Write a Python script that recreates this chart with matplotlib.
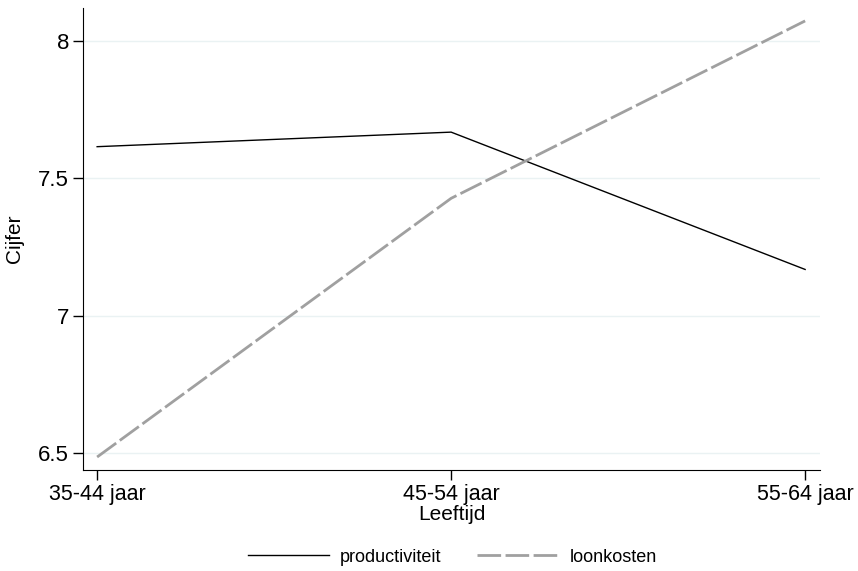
import matplotlib.pyplot as plt

# Data
age_groups = ["35-44 jaar", "45-54 jaar", "55-64 jaar"]
productiviteit = [7.615, 7.668, 7.168]
loonkosten = [6.485, 7.427, 8.073]
y_ticks = [6.5, 7, 7.5, 8]
y_tick_labels = ["6.5", "7", "7.5", "8"]

plt.rcParams['font.family'] = ['Liberation Sans', 'DejaVu Sans']

fig = plt.figure(figsize=(8.58, 5.71), dpi=100)
ax = fig.add_axes([0.0967, 0.177, 0.859, 0.809])

x = range(len(age_groups))
ax.plot(x, productiviteit, color="black", linewidth=1.0, label="productiviteit")
ax.plot(x, loonkosten, color="#a0a0a0", linewidth=2.0, dashes=(8.5, 1.6), label="loonkosten")

ax.set_xlim(-0.04, 2.042)
ax.set_ylim(6.438, 8.12)

ax.set_xticks(list(x))
ax.set_xticklabels(age_groups, fontsize=15.5)
ax.set_yticks(y_ticks)
ax.set_yticklabels(y_tick_labels, fontsize=16)

# faint horizontal gridlines
for yt in y_ticks:
    ax.axhline(yt, color="#eaf2f3", linewidth=1, zorder=0)

ax.spines["top"].set_visible(False)
ax.spines["right"].set_visible(False)
ax.tick_params(axis="both", direction="out", length=7, width=1, colors="black", pad=3)

ax.set_xlabel("Leeftijd", fontsize=15, labelpad=0)
ax.set_ylabel("Cijfer", fontsize=15, labelpad=10)

fig.legend(loc="center", bbox_to_anchor=(0.527, 0.0245), ncol=2, frameon=False,
           fontsize=13, handlelength=4.5, columnspacing=2.0, handletextpad=0.6)

fig.savefig("out.png", dpi=100)
